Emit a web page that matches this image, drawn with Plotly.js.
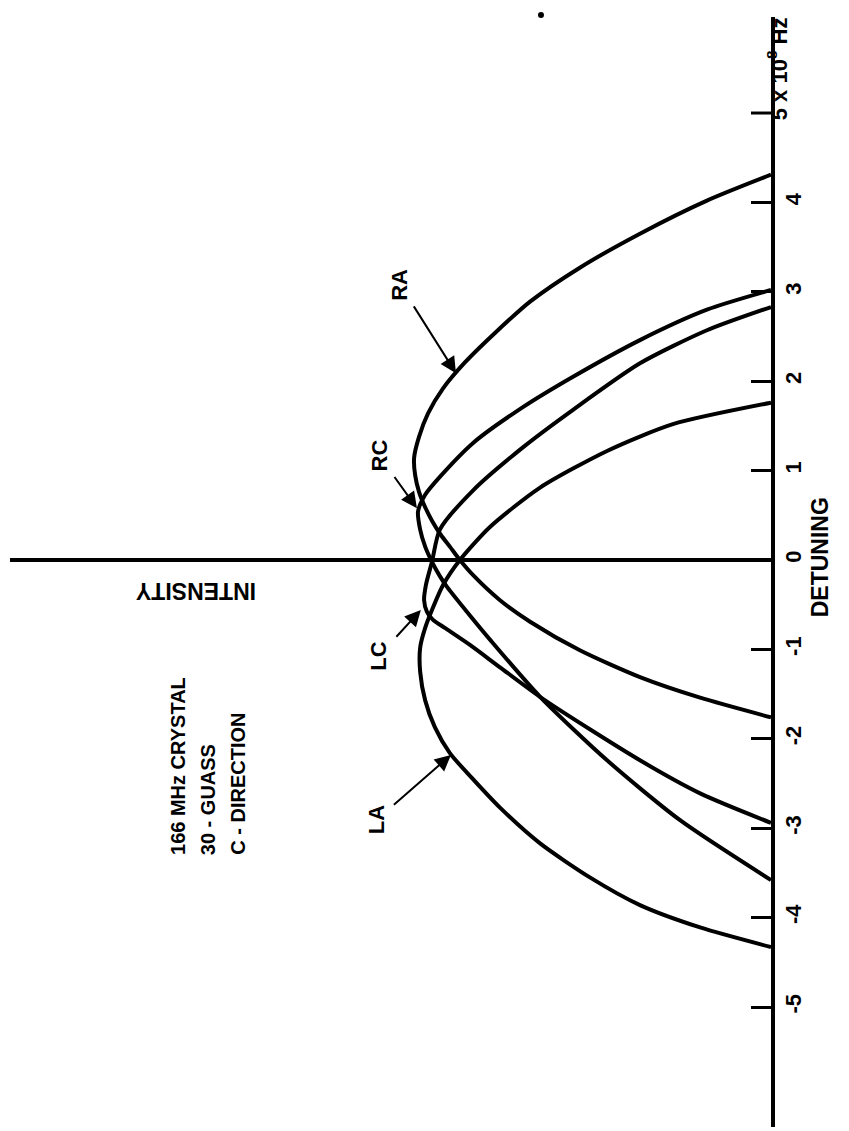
<!DOCTYPE html>
<html>
<head>
<meta charset="utf-8">
<script src="https://cdn.plot.ly/plotly-3.0.1.min.js"></script>
<style>html,body{margin:0;padding:0;background:#fff;}#chart{width:849px;height:1131px;}</style>
</head>
<body>
<div id="chart"></div>
<script>
// Detuning axis (units of 10^8 Hz) and tick labels; the top tick (5) carries the unit label
const detuningTicks = [-5, -4, -3, -2, -1, 0, 1, 2, 3, 4];
const detuningTickLabels = ['-5', '-4', '-3', '-2', '-1', '0', '1', '2', '3', '4'];
const unitTick = 5;
const unitTickLabel = '5 x 10<sup>8</sup> Hz';

// Curve series: intensity (arbitrary units) vs detuning (10^8 Hz)
const raIntensity = [0, 0.179, 0.366, 0.534, 0.673, 0.771, 0.855, 0.916, 0.958, 0.983, 0.997, 0.994, 0.983, 0.966, 0.947, 0.922, 0.897, 0.869, 0.832, 0.757, 0.673, 0.534, 0.366, 0.198, 0];
const raDetuning  = [4.31, 4.02, 3.65, 3.27, 2.89, 2.54, 2.21, 1.92, 1.64, 1.38, 1.14, 0.95, 0.76, 0.59, 0.44, 0.28, 0.15, 0.00, -0.17, -0.45, -0.69, -1.01, -1.31, -1.54, -1.76];

const rcIntensity = [0, 0.179, 0.366, 0.553, 0.693, 0.832, 0.925, 0.966, 0.986, 0.980, 0.966, 0.947, 0.925, 0.905, 0.841, 0.785, 0.645, 0.458, 0.254, 0];
const rcDetuning  = [3.02, 2.80, 2.46, 2.05, 1.71, 1.31, 0.93, 0.73, 0.54, 0.34, 0.15, -0.02, -0.18, -0.30, -0.62, -0.89, -1.53, -2.24, -2.91, -3.58];

const lcIntensity = [0, 0.179, 0.366, 0.553, 0.693, 0.832, 0.925, 0.947, 0.964, 0.969, 0.961, 0.944, 0.911, 0.841, 0.757, 0.631, 0.366, 0.198, 0];
const lcDetuning  = [2.83, 2.57, 2.20, 1.68, 1.26, 0.78, 0.34, -0.02, -0.28, -0.45, -0.58, -0.67, -0.76, -0.95, -1.20, -1.57, -2.24, -2.61, -2.94];

const laIntensity = [0, 0.198, 0.366, 0.506, 0.645, 0.757, 0.835, 0.897, 0.939, 0.966, 0.980, 0.980, 0.966, 0.947, 0.916, 0.869, 0.785, 0.645, 0.458, 0.274, 0];
const laDetuning  = [-4.33, -4.11, -3.86, -3.55, -3.17, -2.77, -2.44, -2.16, -1.87, -1.57, -1.25, -0.98, -0.76, -0.56, -0.28, 0.00, 0.37, 0.81, 1.22, 1.52, 1.76];

// Curve labels
const curveNames = ['RA', 'RC', 'LC', 'LA'];

const FONT = 'Liberation Sans, Arial, Helvetica, sans-serif';
const lineStyle = {color: '#000', width: 4, shape: 'spline', smoothing: 0.7};

function curve(xs, ys, name) {
  return {x: xs, y: ys, name: name, type: 'scatter', mode: 'lines', line: lineStyle, hoverinfo: 'skip', cliponaxis: false};
}

const traces = [
  curve(raIntensity, raDetuning, curveNames[0]),
  curve(rcIntensity, rcDetuning, curveNames[1]),
  curve(lcIntensity, lcDetuning, curveNames[2]),
  curve(laIntensity, laDetuning, curveNames[3])
];

// label with arrow pointing at its curve (x,y = arrow tip, ax,ay = label centre)
function pointer(text, x, y, ax, ay) {
  return {text: text, x: x, y: y, ax: ax, ay: ay, xref: 'x', yref: 'y', axref: 'x', ayref: 'y',
          textangle: -90, font: {family: FONT, size: 22, color: '#000', weight: 'bold'},
          showarrow: true, arrowhead: 2, arrowsize: 1.6, arrowwidth: 2, arrowcolor: '#000',
          standoff: 0, startstandoff: 5};
}

const textFont = {family: FONT, size: 20, color: '#000', weight: 'bold'};

const annotations = [
  pointer(curveNames[0], 0.880, 2.09, 1.036, 3.08),
  pointer(curveNames[1], 0.989, 0.58, 1.095, 1.17),
  pointer(curveNames[2], 0.978, -0.56, 1.095, -1.07),
  pointer(curveNames[3], 0.894, -2.18, 1.103, -2.91),
  // axis titles
  {text: 'DETUNING', xref: 'paper', yref: 'y', x: 1.084, y: 0.03, showarrow: false, textangle: -90,
   font: {family: FONT, size: 23, color: '#000', weight: 'bold'}},
  {text: 'INTENSITY', xref: 'x', yref: 'y', x: 1.606, y: -0.34, showarrow: false, textangle: 180,
   font: {family: FONT, size: 23, color: '#000', weight: 'bold'}},
  {text: unitTickLabel, xref: 'paper', yref: 'y', x: 1.030, y: unitTick - 0.10, yanchor: 'bottom', showarrow: false, textangle: -90,
   font: {family: FONT, size: 22, color: '#000', weight: 'bold'}},
  // notes
  {text: '166 MHz CRYSTAL', xref: 'x', yref: 'y', x: 1.656, y: -3.32, yanchor: 'bottom', showarrow: false, textangle: -90, font: textFont},
  {text: '30 - GUASS', xref: 'x', yref: 'y', x: 1.573, y: -3.32, yanchor: 'bottom', showarrow: false, textangle: -90, font: textFont},
  {text: 'C - DIRECTION', xref: 'x', yref: 'y', x: 1.489, y: -3.32, yanchor: 'bottom', showarrow: false, textangle: -90, font: textFont}
];

const layout = {
  width: 849, height: 1131,
  margin: {l: 10, r: 78, t: 17, b: 4},
  paper_bgcolor: '#fff', plot_bgcolor: '#fff',
  showlegend: false,
  xaxis: {range: [2.1257, 0], showgrid: false, zeroline: false, showline: false, showticklabels: false, ticks: '', fixedrange: true},
  yaxis: {range: [-6.342, 6.074], side: 'right', showgrid: false,
          zeroline: true, zerolinecolor: '#000', zerolinewidth: 4,
          showline: true, linecolor: '#000', linewidth: 4,
          tickmode: 'array', tickvals: detuningTicks, ticktext: detuningTickLabels,
          ticks: 'inside', ticklen: 20, tickwidth: 3, tickcolor: '#000', tickangle: -90,
          tickfont: {family: FONT, size: 22, color: '#000', weight: 'bold'}, fixedrange: true},
  annotations: annotations,
  shapes: [
    // tick mark for the unit-labelled top tick (same length as the axis ticks: 20 px)
    {type: 'line', xref: 'x', yref: 'y', x0: 0, x1: 20 / 358, y0: unitTick, y1: unitTick, line: {color: '#000', width: 3}},
    {type: 'circle', xref: 'paper', yref: 'paper', x0: 0.6938, x1: 0.7017, y0: 0.9991, y1: 1.0045, fillcolor: '#000', line: {width: 0}}
  ]
};

Plotly.newPlot('chart', traces, layout, {staticPlot: true, displayModeBar: false});
</script>
</body>
</html>
